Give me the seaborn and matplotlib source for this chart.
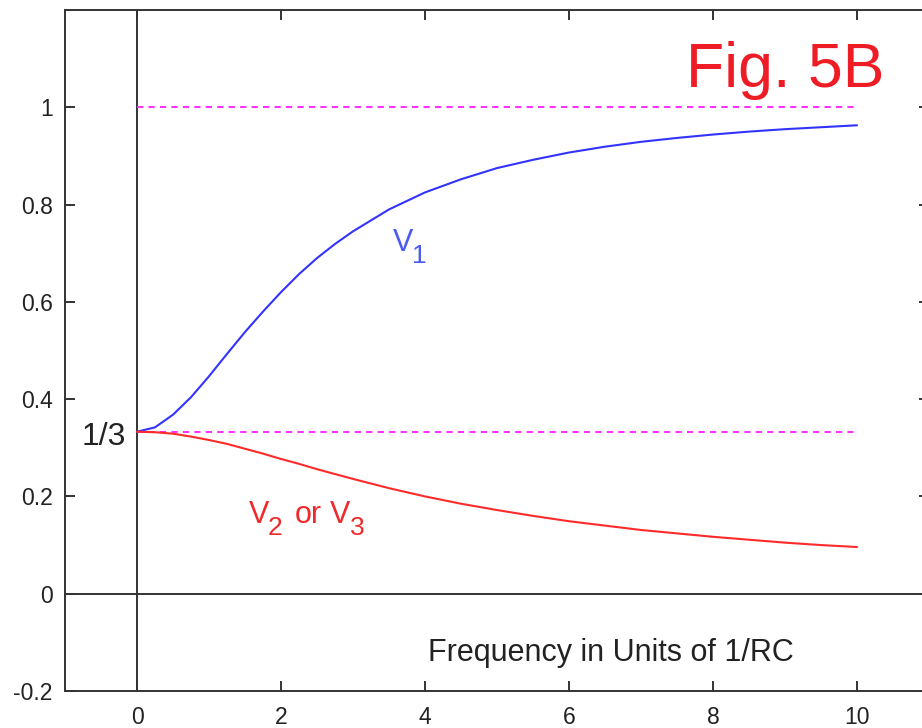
import numpy as np
import pandas as pd
import matplotlib
matplotlib.use("Agg")
import matplotlib.pyplot as plt
import seaborn as sns

# Frequency (units of 1/RC)
freq = [0, 0.25, 0.5, 0.75, 1.0, 1.25, 1.5, 1.75, 2.0, 2.25, 2.5, 2.75, 3.0,
        3.5, 4.0, 4.5, 5.0, 5.5, 6.0, 6.5, 7.0, 7.5, 8.0, 8.5, 9.0, 9.5, 10.0]
# V1 (blue)
v1 = [0.333, 0.342, 0.368, 0.404, 0.447, 0.493, 0.538, 0.580, 0.620, 0.657,
      0.690, 0.719, 0.745, 0.790, 0.825, 0.852, 0.875, 0.892, 0.907, 0.919,
      0.929, 0.937, 0.944, 0.950, 0.955, 0.959, 0.963]
# V2 or V3 (red)
v2 = [0.333, 0.332, 0.329, 0.323, 0.316, 0.308, 0.298, 0.288, 0.277, 0.267,
      0.256, 0.246, 0.236, 0.217, 0.200, 0.185, 0.172, 0.160, 0.149, 0.140,
      0.131, 0.124, 0.117, 0.111, 0.105, 0.100, 0.096]
ref_levels = [1.0, 1 / 3]
ref_x = [0, 10]
xticks = [0, 2, 4, 6, 8, 10]
yticks = [-0.2, 0, 0.2, 0.4, 0.6, 0.8, 1.0]
ytick_labels = ["-0.2", "0", "0.2", "0.4", "0.6", "0.8", "1"]

sns.set_style("ticks")
plt.rcParams["font.family"] = ["Liberation Sans", "DejaVu Sans"]

fig = plt.figure(figsize=(9.22, 7.28), dpi=100)
ax = fig.add_axes([65 / 922, 37 / 728, (929 - 65) / 922, 681 / 728])

df = pd.DataFrame({"f": freq + freq,
                   "v": v1 + v2,
                   "s": ["V1"] * len(freq) + ["V2"] * len(freq)})
sns.lineplot(data=df, x="f", y="v", hue="s",
             palette={"V1": "#3333ff", "V2": "#ff2b2b"},
             linewidth=1.5, legend=False, ax=ax, zorder=3)

for lv in ref_levels:
    ax.plot(ref_x, [lv, lv], color="#ff33ff", linewidth=1.5,
            linestyle=(0, (3, 2.5)), zorder=2)

ax.axvline(0, color="#333333", linewidth=1.4, zorder=1)
ax.axhline(0, color="#333333", linewidth=1.4, zorder=1)

ax.set_xlim(-1, 11)
ax.set_ylim(-0.2, 1.2)
ax.set_xticks(xticks)
ax.set_xticklabels([str(t) for t in xticks])
ax.set_yticks(yticks)
ax.set_yticklabels(ytick_labels)
ax.tick_params(direction="in", length=7, width=1.4, color="#333333",
               labelsize=16.5, labelcolor="#222222", top=True, right=True)
ax.tick_params(axis="x", pad=11)
ax.tick_params(axis="y", pad=9)
for sp in ax.spines.values():
    sp.set_color("#333333")
    sp.set_linewidth(1.4)
ax.set_xlabel("")
ax.set_ylabel("")


def px(xp, yp):
    """pixel position in the reference -> data coordinates (layout only)"""
    return (xp - 137) / 72.0, (594 - yp) / 486.0


def put(xp, yp, s, size, color):
    x, y = px(xp, yp)
    ax.text(x, y, s, fontsize=size, color=color, ha="left", va="baseline")


ax.text(*px(126, 437), "1/3", fontsize=23, color="#222222",
        ha="right", va="center")

blue_lbl = "#4a5cf0"
put(393, 252, "V", 22, blue_lbl)
put(412, 264, "1", 19, blue_lbl)

red_lbl = "#ee2a2a"
put(249, 523, "V", 22, red_lbl)
put(268, 535, "2", 19, red_lbl)
put(295, 523, "or", 22, red_lbl)
put(330, 523, "V", 22, red_lbl)
put(350, 535, "3", 19, red_lbl)

put(428, 661, "Frequency in Units of 1/RC", 22, "#222222")
put(686, 88, "Fig. 5B", 45, "#ee1c24")

fig.savefig("out.png", dpi=100)
